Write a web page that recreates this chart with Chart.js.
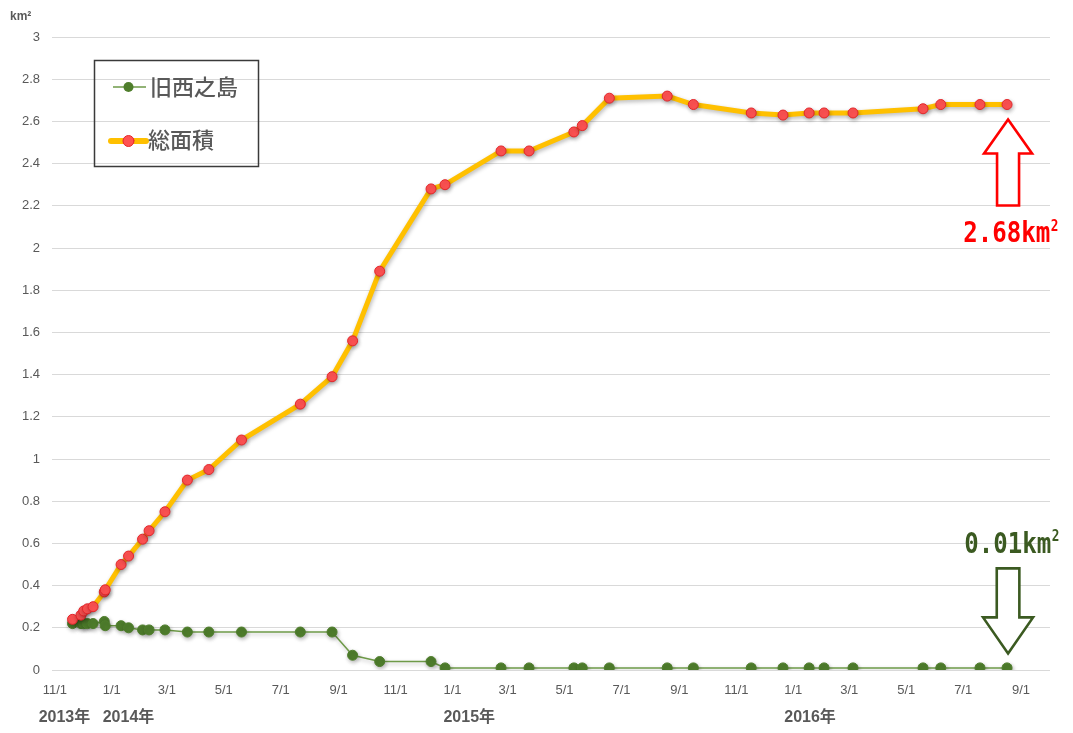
<!DOCTYPE html>
<html>
<head>
<meta charset="utf-8">
<script src="https://cdn.jsdelivr.net/npm/chart.js@4.4.1/dist/chart.umd.min.js"></script>
<style>
  html, body { margin: 0; padding: 0; background: #ffffff; }
  #wrap { width: 1073px; height: 733px; }
</style>
</head>
<body>
<div id="wrap"><canvas id="c" width="1073" height="733"></canvas></div>
<script>
// Survey dates and measured areas (km²)
const surveyDates = [
  '2013-11-20', '2013-11-29', '2013-12-02', '2013-12-06', '2013-12-12',
  '2013-12-24', '2013-12-25', '2014-01-11', '2014-01-19', '2014-02-03',
  '2014-02-10', '2014-02-27', '2014-03-23', '2014-04-15', '2014-05-20',
  '2014-07-22', '2014-08-25', '2014-09-16', '2014-10-15', '2014-12-09',
  '2014-12-24', '2015-02-22', '2015-03-24', '2015-05-11', '2015-05-20',
  '2015-06-18', '2015-08-19', '2015-09-16', '2015-11-17', '2015-12-21',
  '2016-01-18', '2016-02-03', '2016-03-05', '2016-05-19', '2016-06-07',
  '2016-07-19', '2016-08-17'
];
const totalArea = [
  0.24, 0.26, 0.28, 0.29, 0.30,
  0.37, 0.38, 0.50, 0.54, 0.62,
  0.66, 0.75, 0.90, 0.95, 1.09,
  1.26, 1.39, 1.56, 1.89, 2.28,
  2.30, 2.46, 2.46, 2.55, 2.58,
  2.71, 2.72, 2.68, 2.64, 2.63,
  2.64, 2.64, 2.64, 2.66, 2.68,
  2.68, 2.68
];
const oldIslandArea = [
  0.22, 0.22, 0.22, 0.22, 0.22,
  0.23, 0.21, 0.21, 0.20, 0.19,
  0.19, 0.19, 0.18, 0.18, 0.18,
  0.18, 0.18, 0.07, 0.04, 0.04,
  0.01, 0.01, 0.01, 0.01, 0.01,
  0.01, 0.01, 0.01, 0.01, 0.01,
  0.01, 0.01, 0.01, 0.01, 0.01,
  0.01, 0.01
];
const seriesNames = ['旧西之島', '総面積'];

// Axis ticks: every other month start
const monthTicks = [
  '2013-11-01', '2014-01-01', '2014-03-01', '2014-05-01', '2014-07-01', '2014-09-01',
  '2014-11-01', '2015-01-01', '2015-03-01', '2015-05-01', '2015-07-01', '2015-09-01',
  '2015-11-01', '2016-01-01', '2016-03-01', '2016-05-01', '2016-07-01', '2016-09-01'
];
const yearTexts   = ['2013年', '2014年', '2015年', '2016年'];
const yearAnchors = ['2013-11-01', '2014-01-01', '2015-01-01', '2016-01-01'];
const axisStart = '2013-10-29';
const axisEnd   = '2016-10-02';
const yMin = 0, yMax = 3, yStep = 0.2;
const unitLabel = 'km²';

const DAY = 86400000;
function dayNum(s) {
  const [y, m, d] = s.split('-').map(Number);
  return Date.UTC(y, m - 1, d) / DAY;
}
function monthDay(v) {
  const dt = new Date(Math.round(v) * DAY);
  return (dt.getUTCMonth() + 1) + '/' + dt.getUTCDate();
}

const surveyDays = surveyDates.map(dayNum);
const tickDays = monthTicks.map(dayNum);

const GRAY = '#595959';
const LATIN = "'Liberation Sans', Arial, 'Noto Sans CJK JP', sans-serif";
const CJK = "'Noto Sans CJK JP', 'Liberation Sans', sans-serif";

const RED_ARROW = '#ff0000';
const GREEN_ARROW = '#3b5a21';

// Soft drop shadow under both series
const shadowPlugin = {
  id: 'seriesShadow',
  beforeDatasetDraw(chart) {
    const c = chart.ctx;
    c.save();
    c.shadowColor = 'rgba(0,0,0,0.28)';
    c.shadowBlur = 4;
    c.shadowOffsetX = 1;
    c.shadowOffsetY = 2;
  },
  afterDatasetDraw(chart) {
    chart.ctx.restore();
  }
};

function drawArrow(c, cx, tipY, dir, headLen, headHalf, shaftHalf, shaftEndY, color) {
  // dir = -1 : arrow points up (tip on top), dir = 1 : arrow points down
  const baseY = tipY - dir * headLen;
  c.beginPath();
  c.moveTo(cx, tipY);
  c.lineTo(cx + headHalf, baseY);
  c.lineTo(cx + shaftHalf, baseY);
  c.lineTo(cx + shaftHalf, shaftEndY);
  c.lineTo(cx - shaftHalf, shaftEndY);
  c.lineTo(cx - shaftHalf, baseY);
  c.lineTo(cx - headHalf, baseY);
  c.closePath();
  c.fillStyle = '#ffffff';
  c.fill();
  c.lineWidth = 2.6;
  c.lineJoin = 'miter';
  c.strokeStyle = color;
  c.stroke();
}

function drawValueText(c, cx, topY, value, color) {
  // value with unit, narrow monospaced figures, superscript 2
  const main = value.toFixed(2) + 'km';
  const bigFont = "bold 28px 'DejaVu Sans Mono', monospace";
  const supFont = "bold 15px 'DejaVu Sans Mono', monospace";
  c.save();
  c.fillStyle = color;
  c.textBaseline = 'alphabetic';
  c.font = bigFont;
  const sx = 0.86;
  const w = c.measureText(main).width * sx;
  c.font = supFont;
  const ws = c.measureText('2').width * 0.85;
  const left = cx - (w + ws) / 2;
  c.translate(left, topY + 21.5);
  c.scale(sx, 1);
  c.font = bigFont;
  c.fillText(main, 0, 0);
  c.restore();
  c.save();
  c.fillStyle = color;
  c.translate(left + w + 0.5, topY + 10);
  c.scale(0.85, 1);
  c.font = supFont;
  c.fillText('2', 0, 0);
  c.restore();
}

const overlayPlugin = {
  id: 'overlay',
  afterDraw(chart) {
    const c = chart.ctx;
    const xs = chart.scales.x;

    // unit label above the value axis
    c.save();
    c.fillStyle = GRAY;
    c.font = 'bold 12px ' + LATIN;
    c.textBaseline = 'middle';
    c.textAlign = 'left';
    c.fillText(unitLabel, 10, 17);
    c.restore();

    // year labels under the date ticks
    c.save();
    c.fillStyle = GRAY;
    c.textBaseline = 'middle';
    c.textAlign = 'left';
    yearAnchors.forEach((a, i) => {
      const px = xs.getPixelForValue(dayNum(a));
      c.font = '13px ' + LATIN;
      const half = c.measureText(monthDay(dayNum(a))).width / 2;
      c.font = 'bold 16px ' + LATIN;
      c.fillText(yearTexts[i], px - half - (i === 0 ? 4 : 0), 718);
    });
    c.restore();

    // legend box
    c.save();
    c.strokeStyle = '#3a3a3a';
    c.lineWidth = 1.5;
    c.strokeRect(94.5, 60.5, 164, 106);
    const dsOld = chart.data.datasets[1];
    const dsTot = chart.data.datasets[0];
    // old island entry
    c.strokeStyle = dsOld.borderColor;
    c.lineWidth = 1.5;
    c.beginPath(); c.moveTo(113, 87); c.lineTo(146, 87); c.stroke();
    c.beginPath(); c.arc(128.5, 87, 5, 0, Math.PI * 2);
    c.fillStyle = dsOld.pointBackgroundColor; c.fill();
    // total area entry
    c.strokeStyle = dsTot.borderColor;
    c.lineWidth = 6;
    c.lineCap = 'round';
    c.beginPath(); c.moveTo(111, 141); c.lineTo(146, 141); c.stroke();
    c.beginPath(); c.arc(128.5, 141, 5.5, 0, Math.PI * 2);
    c.fillStyle = dsTot.pointBackgroundColor; c.fill();
    c.lineWidth = 1; c.strokeStyle = dsTot.pointBorderColor; c.stroke();
    c.fillStyle = GRAY;
    c.font = '500 22px ' + CJK;
    c.textBaseline = 'middle';
    c.textAlign = 'left';
    c.fillText(dsOld.label, 150, 87);
    c.fillText(dsTot.label, 148, 140);
    c.restore();

    // arrows and value callouts at the latest survey
    const metaTot = chart.getDatasetMeta(0);
    const metaOld = chart.getDatasetMeta(1);
    const lastTot = metaTot.data[metaTot.data.length - 1];
    const lastOld = metaOld.data[metaOld.data.length - 1];
    c.save();
    drawArrow(c, lastTot.x + 1, lastTot.y + 15, -1, 34, 24, 11, lastTot.y + 101, RED_ARROW);
    drawValueText(c, lastTot.x + 3.5, lastTot.y + 116, totalArea[totalArea.length - 1], RED_ARROW);
    drawArrow(c, lastOld.x + 1, lastOld.y - 14.5, 1, 36, 25, 11.3, lastOld.y - 99.5, GREEN_ARROW);
    drawValueText(c, lastOld.x + 4.5, lastOld.y - 136.5, oldIslandArea[oldIslandArea.length - 1], GREEN_ARROW);
    c.restore();
  }
};

new Chart(document.getElementById('c'), {
  type: 'line',
  data: {
    datasets: [
      {
        label: seriesNames[1],
        data: surveyDays.map((d, i) => ({ x: d, y: totalArea[i] })),
        borderColor: '#ffc000',
        borderWidth: 5,
        pointRadius: 5,
        pointBackgroundColor: '#ff5252',
        pointBorderColor: '#e3262b',
        pointBorderWidth: 1,
        tension: 0,
        order: 0
      },
      {
        label: seriesNames[0],
        data: surveyDays.map((d, i) => ({ x: d, y: oldIslandArea[i] })),
        borderColor: '#6e9a48',
        borderWidth: 1.5,
        pointRadius: 5,
        pointBackgroundColor: '#4f7e2c',
        pointBorderColor: '#4f7e2c',
        pointBorderWidth: 1,
        tension: 0,
        order: 1
      }
    ]
  },
  options: {
    responsive: false,
    animation: false,
    events: [],
    layout: { padding: { top: 37, right: 23, left: 0, bottom: 0 } },
    plugins: {
      legend: { display: false },
      tooltip: { enabled: false }
    },
    scales: {
      x: {
        type: 'linear',
        min: dayNum(axisStart),
        max: dayNum(axisEnd),
        afterBuildTicks(s) { s.ticks = tickDays.map(v => ({ value: v })); },
        afterFit(s) { s.height = 63; },
        grid: { display: false, drawTicks: false },
        border: { display: false },
        ticks: {
          autoSkip: false,
          maxRotation: 0,
          padding: 13,
          color: GRAY,
          font: { family: LATIN, size: 13 },
          callback: v => monthDay(v)
        }
      },
      y: {
        min: yMin,
        max: yMax,
        afterFit(s) { s.width = 52; },
        grid: { color: '#d9d9d9', lineWidth: 1, drawTicks: false },
        border: { display: false },
        ticks: {
          stepSize: yStep,
          padding: 12,
          color: GRAY,
          font: { family: LATIN, size: 13 },
          callback: v => String(Number(v.toFixed(1)))
        }
      }
    }
  },
  plugins: [shadowPlugin, overlayPlugin]
});
</script>
</body>
</html>
